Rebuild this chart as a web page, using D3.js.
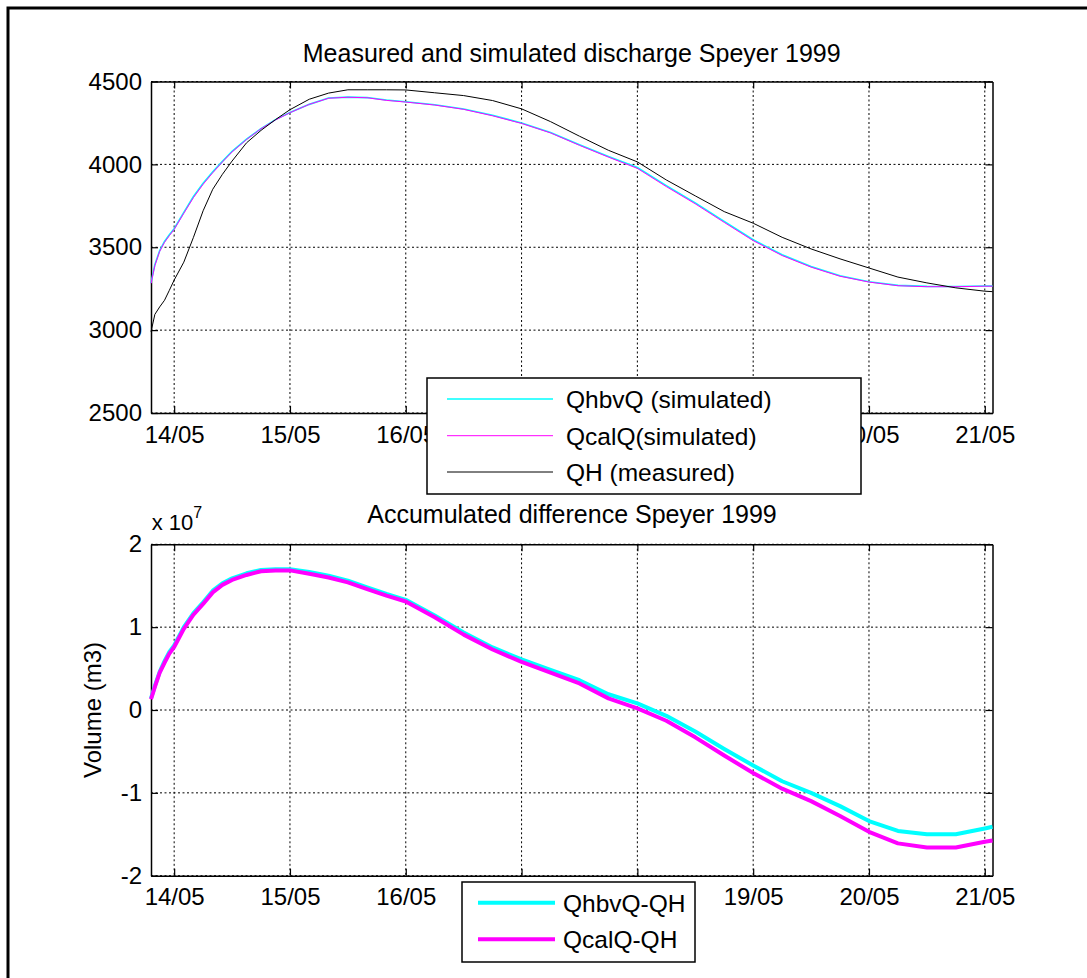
<!DOCTYPE html>
<html>
<head>
<meta charset="utf-8">
<script src="https://cdn.jsdelivr.net/npm/d3@7"></script>
<style>
  body { margin: 0; background: #fff; }
  text { font-family: "Liberation Sans", Arial, Helvetica, sans-serif; fill: #000; }
</style>
</head>
<body>
<svg id="chart" width="1087" height="978"></svg>
<script>
// hours after 14/05/1999 00:00
const hours = [-4.8, -4, -3, -2, -1, 0, 2, 4, 6, 8, 10, 12, 15, 18, 21, 24, 28, 32, 36, 40, 44, 48,
  54, 60, 66, 72, 78, 84, 90, 96, 102, 108, 114, 120, 126, 132, 138, 144, 150, 156, 162, 168, 169.6];

// discharge (m3/s)
const qhbvQ = [3285, 3395, 3480, 3535, 3575, 3612, 3710, 3806, 3886, 3955, 4018, 4078, 4152, 4216, 4270, 4313,
  4362, 4400, 4406, 4403, 4388, 4378, 4360, 4334, 4296, 4250, 4192, 4118, 4048, 3981, 3872, 3768, 3656, 3545,
  3455, 3384, 3328, 3292, 3270, 3264, 3263, 3266, 3266];
const qcalQ = [3282, 3390, 3475, 3530, 3570, 3608, 3705, 3800, 3880, 3950, 4015, 4075, 4150, 4215, 4268, 4312,
  4362, 4399, 4405, 4402, 4386, 4376, 4358, 4332, 4293, 4247, 4190, 4115, 4044, 3976, 3866, 3762, 3650, 3540,
  3450, 3380, 3325, 3290, 3268, 3262, 3262, 3265, 3265];
const qH = [2990, 3095, 3140, 3180, 3240, 3302, 3410, 3560, 3720, 3850, 3940, 4020, 4130, 4205, 4270, 4330,
  4393, 4430, 4450, 4450, 4450, 4449, 4432, 4415, 4385, 4335, 4258, 4170, 4085, 4015, 3906, 3810, 3715, 3645,
  3560, 3490, 3430, 3375, 3320, 3285, 3255, 3235, 3232];

// accumulated difference (x 10^7 m3)
const dHbv = [0.14, 0.29, 0.46, 0.59, 0.70, 0.78, 1.00, 1.17, 1.30, 1.44, 1.53, 1.59, 1.65, 1.69, 1.70, 1.70,
  1.665, 1.62, 1.56, 1.48, 1.40, 1.33, 1.14, 0.935, 0.755, 0.61, 0.485, 0.36, 0.19, 0.08, -0.07, -0.26, -0.47,
  -0.67, -0.86, -1.00, -1.16, -1.34, -1.46, -1.50, -1.50, -1.43, -1.41];
const dCal = [0.13, 0.28, 0.45, 0.57, 0.68, 0.76, 0.98, 1.15, 1.28, 1.42, 1.51, 1.57, 1.63, 1.675, 1.685, 1.685,
  1.645, 1.60, 1.54, 1.46, 1.38, 1.31, 1.12, 0.91, 0.73, 0.58, 0.45, 0.32, 0.14, 0.02, -0.13, -0.33, -0.55,
  -0.76, -0.95, -1.10, -1.28, -1.47, -1.61, -1.66, -1.66, -1.59, -1.575];

const qTicks = [2500, 3000, 3500, 4000, 4500];
const dTicks = [-2, -1, 0, 1, 2];
const topLegend = ["QhbvQ (simulated)", "QcalQ(simulated)", "QH (measured)"];
const bottomLegend = ["QhbvQ-QH", "QcalQ-QH"];

const svg = d3.select("#chart");

// figure frame
svg.append("rect")
  .attr("x", 8).attr("y", 8)
  .attr("width", 1100).attr("height", 1000)
  .attr("fill", "none").attr("stroke", "#000").attr("stroke-width", 3);

const base = Date.UTC(1999, 4, 14);
const times = hours.map(h => new Date(base + h * 3600e3));

const x = d3.scaleUtc()
  .domain([new Date(Date.UTC(1999, 4, 13, 19, 12)), new Date(Date.UTC(1999, 4, 21, 1, 36))])
  .range([151, 992.5]);
const dayTicks = d3.utcDay.range(new Date(Date.UTC(1999, 4, 14)), new Date(Date.UTC(1999, 4, 22)));
const fmt = d3.utcFormat("%d/%m");

// labels lying completely under a legend box are not drawn (the legend hides them)
function drawPanel(top, bottom, y, yTicks, labelPad, legend) {
  const g = svg.append("g");

  // dotted grid
  g.selectAll(".gx").data(dayTicks).enter().append("line")
    .attr("x1", d => x(d)).attr("x2", d => x(d))
    .attr("y1", top).attr("y2", bottom)
    .attr("stroke", "#000").attr("stroke-width", 1).attr("stroke-dasharray", "2,2.5");
  g.selectAll(".gy").data(yTicks).enter().append("line")
    .attr("x1", 151).attr("x2", 992.5)
    .attr("y1", d => y(d)).attr("y2", d => y(d))
    .attr("stroke", "#000").attr("stroke-width", 1).attr("stroke-dasharray", "2,2.5");

  const xLabel = d => (x(d) - 30 > legend.x0 && x(d) + 30 < legend.x1) ? "" : fmt(d);

  const ax = [
    g.append("g").attr("transform", "translate(0," + bottom + ")")
      .call(d3.axisBottom(x).tickValues(dayTicks).tickFormat(xLabel).tickSize(-7).tickSizeOuter(0).tickPadding(labelPad)),
    g.append("g").attr("transform", "translate(0," + top + ")")
      .call(d3.axisTop(x).tickValues(dayTicks).tickFormat("").tickSize(-7).tickSizeOuter(0)),
    g.append("g").attr("transform", "translate(151,0)")
      .call(d3.axisLeft(y).tickValues(yTicks).tickFormat(d => String(d)).tickSize(-7).tickSizeOuter(0).tickPadding(9)),
    g.append("g").attr("transform", "translate(992.5,0)")
      .call(d3.axisRight(y).tickValues(yTicks).tickFormat("").tickSize(-7).tickSizeOuter(0))
  ];
  ax.forEach(a => {
    a.select(".domain").attr("stroke", "#000").attr("stroke-width", 1.5);
    a.selectAll(".tick line").attr("stroke", "#000").attr("stroke-width", 1.2);
    a.selectAll("text").attr("font-size", 24).attr("font-family", null).attr("fill", "#000");
  });
  return g;
}

// ---------- top panel ----------
const yQ = d3.scaleLinear().domain([2500, 4500]).range([413, 81.5]);
const gTop = drawPanel(81.5, 413, yQ, qTicks, 13, { x0: 427, x1: 861 });

svg.append("text")
  .attr("x", 571.7).attr("y", 61.5)
  .attr("text-anchor", "middle").attr("font-size", 25)
  .text("Measured and simulated discharge Speyer 1999");

const lineQ = vals => d3.line().x((d, i) => x(times[i])).y(d => yQ(d))(vals);
const topSeries = [
  { vals: qhbvQ, color: "#00ffff", w: 1.6 },
  { vals: qcalQ, color: "#ff00ff", w: 1 },
  { vals: qH, color: "#000000", w: 1 }
];
topSeries.forEach(s => {
  gTop.append("path")
    .attr("d", lineQ(s.vals))
    .attr("fill", "none").attr("stroke", s.color).attr("stroke-width", s.w);
});

const legT = svg.append("g");
legT.append("rect")
  .attr("x", 427).attr("y", 378).attr("width", 434).attr("height", 116)
  .attr("fill", "#fff").attr("stroke", "#000").attr("stroke-width", 1.5);
[399, 435.7, 472].forEach((ry, i) => {
  legT.append("line")
    .attr("x1", 447).attr("x2", 553).attr("y1", ry).attr("y2", ry)
    .attr("stroke", topSeries[i].color).attr("stroke-width", i === 0 ? 1.6 : 1);
  legT.append("text")
    .attr("x", 566).attr("y", ry + 9).attr("font-size", 24.5)
    .text(topLegend[i]);
});

// ---------- bottom panel ----------
const yD = d3.scaleLinear().domain([-2, 2]).range([875.7, 544.3]);
const gBot = drawPanel(544.3, 875.7, yD, dTicks, 12, { x0: 462, x1: 695 });

svg.append("text")
  .attr("x", 572).attr("y", 523.3)
  .attr("text-anchor", "middle").attr("font-size", 25)
  .text("Accumulated difference Speyer 1999");

const expo = svg.append("text").attr("x", 151.7).attr("y", 529.5).attr("font-size", 22);
expo.append("tspan").text("x 10");
expo.append("tspan").attr("font-size", 16).attr("dy", -12).text("7");

svg.append("text")
  .attr("transform", "translate(101,710) rotate(-90)")
  .attr("text-anchor", "middle").attr("font-size", 24)
  .text("Volume (m3)");

const lineD = vals => d3.line().x((d, i) => x(times[i])).y(d => yD(d))(vals);
const botSeries = [
  { vals: dHbv, color: "#00ffff" },
  { vals: dCal, color: "#ff00ff" }
];
botSeries.forEach(s => {
  gBot.append("path")
    .attr("d", lineD(s.vals))
    .attr("fill", "none").attr("stroke", s.color).attr("stroke-width", 4)
    .attr("stroke-linejoin", "round");
});

const legB = svg.append("g");
legB.append("rect")
  .attr("x", 462).attr("y", 882).attr("width", 233).attr("height", 80)
  .attr("fill", "#fff").attr("stroke", "#000").attr("stroke-width", 1.5);
[902.7, 939.3].forEach((ry, i) => {
  legB.append("line")
    .attr("x1", 478).attr("x2", 555).attr("y1", ry).attr("y2", ry)
    .attr("stroke", botSeries[i].color).attr("stroke-width", 4);
  legB.append("text")
    .attr("x", 563).attr("y", ry + 9).attr("font-size", 24.5)
    .text(bottomLegend[i]);
});
</script>
</body>
</html>
